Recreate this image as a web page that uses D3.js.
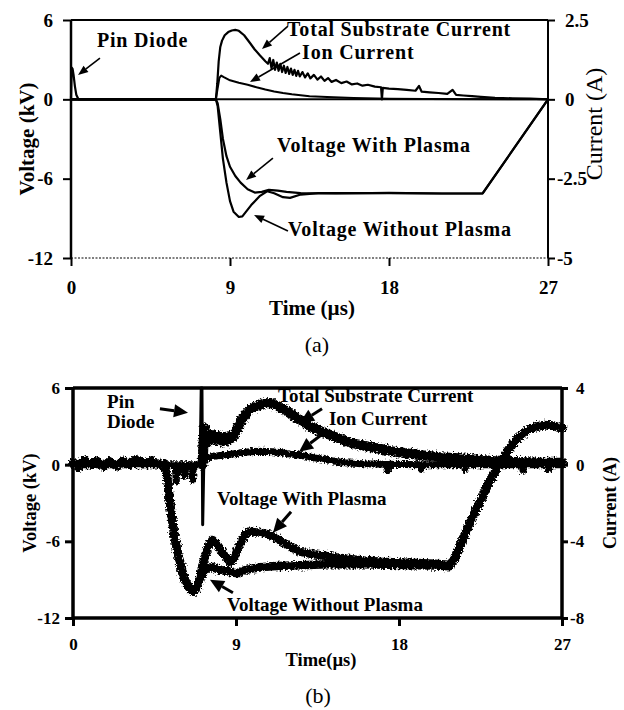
<!DOCTYPE html>
<html><head><meta charset="utf-8">
<script src="https://cdn.jsdelivr.net/npm/d3@7"></script>
<style>
body{margin:0;background:#fff}
svg{display:block}
text{font-family:"Liberation Serif","Times New Roman",serif;fill:#000}
</style>
</head><body><svg id="c" width="624" height="710"></svg>
<script>
// ================= DATA =================
const timeTicks = [0, 9, 18, 27];
const aVoltTicks = [6, 0, -6, -12];
const aCurrTicks = [2.5, 0, -2.5, -5];
const bVoltTicks = [6, 0, -6, -12];
const bCurrTicks = [4, 0, -4, -8];

// ---- panel (a) : [time µs, value] ----
const aPinDiode = [[0,0],[0.04,2.4],[0.09,2.3],[0.15,1.8],[0.22,1.0],[0.3,0.35],[0.42,0],[8.2,0]];
const aTotalCurrent = [[0,0],[8.2,0],[8.28,0.5],[8.36,1.2],[8.45,1.65],[8.55,1.85],[8.7,2.02],[8.9,2.12],[9.1,2.17],[9.3,2.19],[9.5,2.16],[9.8,2.02],[10.1,1.8],[10.4,1.57],[10.7,1.38],[11.0,1.2],[11.15,1.12],[11.25,1.3],[11.35,0.98],[11.45,1.24],[11.55,0.93],[11.65,1.16],[11.75,0.9],[11.85,1.12],[11.95,0.86],[12.05,1.06],[12.15,0.83],[12.25,1.02],[12.35,0.8],[12.45,0.97],[12.55,0.77],[12.65,0.93],[12.75,0.74],[12.85,0.9],[12.95,0.72],[13.1,0.86],[13.25,0.69],[13.4,0.82],[13.55,0.66],[13.75,0.77],[13.95,0.62],[14.15,0.72],[14.35,0.58],[14.55,0.67],[14.75,0.55],[15.0,0.61],[15.3,0.51],[15.6,0.56],[15.9,0.47],[16.2,0.5],[16.5,0.43],[16.8,0.46],[17.2,0.4],[17.55,0.38],[17.6,0.0],[17.65,0.36],[18.0,0.34],[18.5,0.32],[19.0,0.3],[19.5,0.27],[19.7,0.42],[19.85,0.24],[20.3,0.22],[20.8,0.2],[21.3,0.17],[21.6,0.3],[21.8,0.14],[22.2,0.12],[22.7,0.1],[23.2,0.08],[24,0.05],[25,0.03],[26,0.02],[27,0]];
const aIonCurrent = [[0,0],[8.2,0],[8.3,0.35],[8.4,0.68],[8.5,0.75],[8.65,0.7],[9.0,0.6],[9.5,0.52],[10.0,0.46],[10.5,0.38],[11.0,0.31],[11.5,0.25],[12.0,0.2],[12.5,0.16],[13.0,0.13],[13.5,0.1],[14.5,0.07],[16,0.04],[18,0.02],[20,0.01],[27,0]];
const aVoltWithPlasma = [[0,0],[8.2,0],[8.3,-0.3],[8.45,-1.5],[8.6,-3.0],[8.8,-4.3],[9.0,-5.1],[9.3,-5.8],[9.6,-6.3],[10.0,-6.8],[10.4,-7.05],[10.8,-7.0],[11.2,-6.85],[11.7,-6.9],[12.2,-7.0],[13,-7.1],[15,-7.12],[18,-7.08],[21,-7.12],[23.3,-7.12],[27,0]];
const aVoltWithoutPlasma = [[0,0],[8.2,0],[8.3,-0.5],[8.45,-2.5],[8.6,-4.5],[8.8,-6.3],[9.0,-7.7],[9.2,-8.5],[9.5,-8.9],[9.7,-8.85],[10.2,-8.0],[10.7,-7.3],[11.1,-6.95],[11.5,-7.1],[12.0,-7.4],[12.4,-7.45],[13.0,-7.2],[14,-7.1],[18,-7.1],[21,-7.12],[23.3,-7.12],[27,0]];

// ---- panel (b) ----
const bVoltStart = [[0,0.2],[0.3,-0.2],[0.6,0.35],[1.0,0.0],[1.3,0.3],[1.7,-0.15],[2.0,0.25],[2.4,-0.1],[2.8,0.3],[3.1,0.0],[3.5,0.4],[3.9,0.05],[4.3,0.3],[4.7,0.0],[5.0,0.1],[5.2,-1.0],[5.4,-3.5],[5.6,-5.6],[5.8,-7.0],[6.0,-8.2],[6.2,-9.1],[6.4,-9.6],[6.65,-9.95]];
const bVoltWithoutPlasma = [[6.9,-9.4],[7.15,-8.5],[7.4,-8.1],[7.7,-8.0],[8.0,-8.2],[8.4,-8.3],[8.8,-8.45],[9.1,-8.5],[9.5,-8.25],[10,-8.1],[10.5,-8.0],[11,-7.95],[12,-7.9],[13,-7.85],[14,-7.8],[16,-7.8],[18,-7.85],[20,-7.9],[20.8,-7.95]];
const bVoltWithPlasma = [[6.85,-9.6],[7.0,-8.9],[7.2,-7.6],[7.45,-6.4],[7.7,-5.9],[7.95,-6.2],[8.3,-7.0],[8.7,-7.65],[8.9,-7.3],[9.2,-6.3],[9.5,-5.5],[9.7,-5.25],[10.2,-5.3],[10.8,-5.45],[11.4,-5.9],[11.9,-6.35],[12.5,-6.8],[13.2,-7.0],[14,-7.15],[15,-7.35],[16,-7.5],[17,-7.6],[18,-7.65],[19,-7.7],[20,-7.75],[20.8,-7.85]];
const bVoltRamp = [[21.1,-7.3],[21.5,-5.9],[22,-4.3],[22.5,-2.8],[23,-1.3],[23.5,-0.1],[24,1.1],[24.5,2.0],[25,2.6],[25.5,2.95],[26,3.1],[26.5,3.05],[27,2.85]];
const bPinDiode = [[7.02,0.1],[7.08,6.0],[7.12,6.0],[7.16,-4.7],[7.22,0]];
const bTotalCurrent = [[7.15,0],[7.25,1.9],[7.35,1.1],[7.45,1.6],[7.6,1.3],[7.75,1.55],[7.9,1.25],[8.05,1.5],[8.2,1.2],[8.35,1.45],[8.5,1.25],[8.65,1.5],[8.8,1.4],[9.0,1.75],[9.2,2.1],[9.4,2.45],[9.6,2.7],[9.8,2.9],[10.0,3.0],[10.3,3.1],[10.6,3.2],[10.9,3.22],[11.2,3.1],[11.5,2.95],[11.8,2.8],[12.1,2.6],[12.4,2.4],[12.7,2.25],[13.0,2.05],[13.4,1.85],[13.8,1.7],[14.2,1.55],[14.6,1.4],[15.0,1.25],[15.5,1.1],[16.0,1.0],[16.5,0.9],[17.0,0.82],[17.5,0.72],[18.0,0.65],[18.5,0.58],[19.0,0.52],[19.5,0.47],[20.0,0.42],[20.5,0.38],[21.0,0.35],[21.5,0.32],[22.0,0.28],[22.5,0.25],[23.0,0.2],[23.5,0.17],[24,0.15],[25,0.12],[26,0.1],[27,0.1]];
const bIonCurrent = [[0,0],[5.65,0],[5.7,-0.9],[5.75,0],[6.1,0],[6.15,-0.6],[6.2,0],[6.55,0],[6.6,-0.8],[6.65,0],[7.1,0],[7.3,0.3],[7.6,0.42],[8.0,0.47],[8.5,0.52],[9.0,0.58],[9.5,0.65],[10.0,0.69],[10.5,0.7],[11.0,0.68],[11.5,0.62],[12.0,0.55],[12.5,0.5],[13.0,0.42],[13.5,0.33],[14.0,0.25],[14.5,0.17],[15.0,0.1],[16,0.05],[17.3,0.02],[17.35,-0.3],[17.4,0.02],[19.2,0.0],[19.25,-0.25],[19.3,0.0],[21.6,0],[21.65,-0.25],[21.7,0],[24.8,0],[24.85,-0.3],[24.9,0],[26.2,0],[26.25,-0.25],[26.3,0],[27,0]];

// annotations (data coordinates, left-axis units)
const aNotes = [
  {lines:["Pin Diode"], t:1.47, v:3.96, from:[1.64,3.12], to:[0.40,1.84]},
  {lines:["Total Substrate Current"], t:12.23, v:4.78, from:[12.28,5.54], to:[10.81,3.80]},
  {lines:["Ion Current"], t:13.08, v:3.06, from:[12.96,3.50], to:[10.13,1.31]},
  {lines:["Voltage With Plasma"], t:11.66, v:-3.99, from:[11.43,-4.44], to:[9.91,-6.10]},
  {lines:["Voltage Without Plasma"], t:12.28, v:-10.34, from:[12.28,-9.96], to:[10.36,-8.75]}
];
const bNotes = [
  {lines:["Pin","Diode"], t:1.88, v:4.46, from:[4.80,4.38], to:[6.35,4.07]},
  {lines:["Total Substrate Current"], t:11.32, v:4.93, from:[13.75,4.38], to:[12.53,3.29]},
  {lines:["Ion Current"], t:14.13, v:3.13, from:[14.02,2.66], to:[12.48,1.02]},
  {lines:["Voltage With Plasma"], t:7.95, v:-3.13, from:[12.04,-3.68], to:[11.04,-5.32]},
  {lines:["Voltage Without Plasma"], t:8.50, v:-11.43, from:[8.83,-10.02], to:[7.56,-9.0]}
];

// ================= DRAW =================
const svg = d3.select("#c");
const fmt = d => String(d);

// roughening filter to imitate the noisy oscilloscope traces of panel (b)
const defs = svg.append("defs");
const flt = defs.append("filter").attr("id", "rough").attr("x", "-5%").attr("y", "-20%")
  .attr("width", "110%").attr("height", "140%");
flt.append("feTurbulence").attr("type", "fractalNoise").attr("baseFrequency", "0.55")
  .attr("numOctaves", 2).attr("seed", 3).attr("result", "n");
flt.append("feDisplacementMap").attr("in", "SourceGraphic").attr("in2", "n")
  .attr("scale", 6).attr("xChannelSelector", "R").attr("yChannelSelector", "G");

function arrow(g, x1, y1, x2, y2, lw, hl, hw) {
  const ang = Math.atan2(y2 - y1, x2 - x1);
  const bx = x2 - hl * Math.cos(ang), by = y2 - hl * Math.sin(ang);
  g.append("line").attr("x1", x1).attr("y1", y1).attr("x2", bx).attr("y2", by)
    .attr("stroke", "#000").attr("stroke-width", lw);
  const px = -Math.sin(ang) * hw / 2, py = Math.cos(ang) * hw / 2;
  g.append("path").attr("d", `M${x2},${y2}L${bx + px},${by + py}L${bx - px},${by - py}Z`).attr("fill", "#000");
}

function panel(cfg) {
  const x = d3.scaleLinear().domain([0, 27]).range([cfg.x0, cfg.x1]);
  const yL = d3.scaleLinear().domain([-12, 6]).range([cfg.y1, cfg.y0]);
  const yR = d3.scaleLinear().domain(cfg.curDomain).range([cfg.y1, cfg.y0]);
  const g = svg.append("g");
  const lineL = d3.line().x(d => x(d[0])).y(d => yL(d[1]));
  const lineR = d3.line().x(d => x(d[0])).y(d => yR(d[1]));

  // axes
  const ax = g.append("g").attr("transform", `translate(0,${cfg.y1})`)
    .call(d3.axisBottom(x).tickValues(timeTicks).tickFormat(fmt).tickSize(cfg.tick).tickSizeOuter(0));
  ax.selectAll("text").attr("y", cfg.xLabY).attr("dy", 0)
    .style("font-size", cfg.tickFont + "px").style("font-weight", "bold");
  const al = g.append("g").attr("transform", `translate(${cfg.x0},0)`)
    .call(d3.axisLeft(yL).tickValues(cfg.voltTicks).tickFormat(fmt).tickSize(cfg.tick).tickSizeOuter(0).tickPadding(cfg.yPad));
  al.selectAll("text").style("font-size", cfg.tickFont + "px").style("font-weight", "bold");
  const ar = g.append("g").attr("transform", `translate(${cfg.x1},0)`)
    .call(d3.axisRight(yR).tickValues(cfg.curTicks).tickFormat(fmt).tickSize(cfg.rTick).tickSizeOuter(0));
  ar.selectAll("text").attr("x", d => d < 0 ? cfg.rNeg : cfg.rPos)
    .style("font-size", cfg.tickFont + "px").style("font-weight", "bold");
  [ax, al, ar].forEach(a => {
    a.select(".domain").remove();
    a.selectAll(".tick line").attr("stroke", "#000").attr("stroke-width", cfg.tickW);
  });

  // frame
  g.append("line").attr("x1", cfg.x0).attr("x2", cfg.x0).attr("y1", cfg.y0).attr("y2", cfg.y1)
    .attr("stroke", "#000").attr("stroke-width", cfg.leftW);
  g.append("line").attr("x1", cfg.x1).attr("x2", cfg.x1).attr("y1", cfg.y0).attr("y2", cfg.y1)
    .attr("stroke", "#000").attr("stroke-width", cfg.rightW);
  g.append("line").attr("x1", cfg.x0).attr("x2", cfg.x1).attr("y1", cfg.y0).attr("y2", cfg.y0)
    .attr("stroke", "#000").attr("stroke-width", cfg.topW);
  g.append("line").attr("x1", cfg.x0).attr("x2", cfg.x1).attr("y1", cfg.y1).attr("y2", cfg.y1)
    .attr("stroke", "#000").attr("stroke-width", cfg.botW).attr("stroke-dasharray", cfg.botDash);
  if (cfg.zeroLine) {
    g.append("line").attr("x1", cfg.x0).attr("x2", cfg.x1).attr("y1", yL(0)).attr("y2", yL(0))
      .attr("stroke", "#000").attr("stroke-width", 2);
  }

  // series (noisy ones go through the roughening filter)
  const sg = g.append("g").attr("filter", cfg.rough ? "url(#rough)" : null);
  const cg = g.append("g");
  cfg.series.forEach(s => {
    (s.clean ? cg : sg).append("path").datum(s.data).attr("d", s.axis === "R" ? lineR : lineL)
      .attr("fill", "none").attr("stroke", "#000").attr("stroke-width", s.w)
      .attr("stroke-linejoin", "round").attr("stroke-linecap", "round");
  });

  // annotations
  cfg.notes.forEach(n => {
    n.lines.forEach((ln, i) => {
      g.append("text").attr("x", x(n.t)).attr("y", yL(n.v) + i * cfg.noteLine)
        .style("font-size", cfg.noteFont + "px").style("font-weight", "bold")
        .style("letter-spacing", cfg.noteSpacing + "px").text(ln);
    });
    arrow(g, x(n.from[0]), yL(n.from[1]), x(n.to[0]), yL(n.to[1]), cfg.arrW, cfg.headL, cfg.headW);
  });

  // titles
  g.append("text").attr("transform", `translate(${cfg.yTitleX},${(cfg.y0 + cfg.y1) / 2}) rotate(-90)`)
    .attr("text-anchor", "middle").attr("dy", "0.35em")
    .style("font-size", cfg.titleFont + "px").style("font-weight", "bold").text("Voltage (kV)");
  g.append("text").attr("transform", `translate(${cfg.rTitleX},${cfg.rTitleY}) rotate(-90)`)
    .attr("text-anchor", "middle").attr("dy", "0.35em")
    .style("font-size", cfg.rTitleFont + "px").style("font-weight", cfg.rTitleWeight).text("Current (A)");
  g.append("text").attr("x", cfg.xTitleX).attr("y", cfg.xTitleY).attr("text-anchor", "middle")
    .style("font-size", cfg.titleFont + "px").style("font-weight", "bold").text(cfg.xTitle);
  g.append("text").attr("x", cfg.capX).attr("y", cfg.capY).attr("text-anchor", "middle")
    .style("font-size", "22px").text(cfg.caption);
}

panel({
  x0: 71, x1: 548, y0: 20, y1: 258, curDomain: [-5, 2.5],
  voltTicks: aVoltTicks, curTicks: aCurrTicks,
  tick: 8, rTick: 7, tickW: 2, xLabY: 36, yPad: 10, rNeg: 9, rPos: 17, tickFont: 19,
  leftW: 2.5, rightW: 2, topW: 2, botW: 1.2, botDash: "2,1.5", zeroLine: true, rough: false,
  series: [
    {data: aPinDiode, axis: "L", w: 2.2},
    {data: aIonCurrent, axis: "R", w: 2},
    {data: aTotalCurrent, axis: "R", w: 2.2},
    {data: aVoltWithPlasma, axis: "L", w: 2.2},
    {data: aVoltWithoutPlasma, axis: "L", w: 2.2}
  ],
  notes: aNotes, noteFont: 20, noteSpacing: 0.8, noteLine: 22, arrW: 1.6, headL: 10, headW: 8,
  yTitleX: 27, rTitleX: 594, rTitleY: 124, rTitleFont: 24, rTitleWeight: "normal",
  titleFont: 21, xTitle: "Time (µs)", xTitleX: 312, xTitleY: 315,
  caption: "(a)", capX: 317, capY: 352
});

panel({
  x0: 73, x1: 562, y0: 388, y1: 618, curDomain: [-8, 4],
  voltTicks: bVoltTicks, curTicks: bCurrTicks,
  tick: 8, rTick: 6, tickW: 3, xLabY: 32, yPad: 5, rNeg: 8, rPos: 14, tickFont: 17,
  leftW: 3.5, rightW: 3.5, topW: 3.5, botW: 3.5, botDash: null, zeroLine: false, rough: true,
  series: [
    {data: bIonCurrent, axis: "R", w: 7},
    {data: bVoltStart.concat(bVoltWithoutPlasma, bVoltRamp), axis: "L", w: 8.5},
    {data: bVoltStart.concat(bVoltWithPlasma, bVoltRamp), axis: "L", w: 8.5},
    {data: bTotalCurrent, axis: "R", w: 10},
    {data: bPinDiode, axis: "L", w: 3, clean: true}
  ],
  notes: bNotes, noteFont: 19, noteSpacing: 0, noteLine: 20, arrW: 3, headL: 14, headW: 13,
  yTitleX: 30, rTitleX: 610, rTitleY: 503, rTitleFont: 18, rTitleWeight: "bold",
  titleFont: 18.5, xTitle: "Time(µs)", xTitleX: 321, xTitleY: 666,
  caption: "(b)", capX: 318, capY: 703
});
</script>
</body></html>
